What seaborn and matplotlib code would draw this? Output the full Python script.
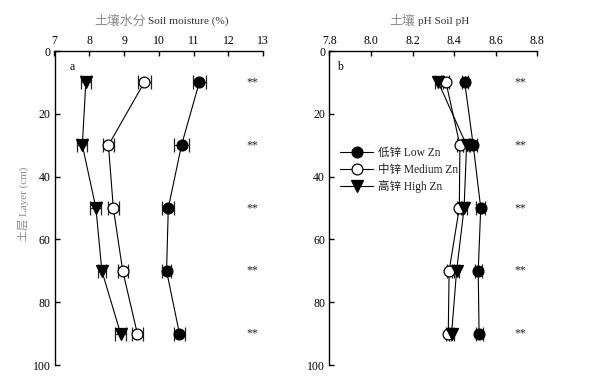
import matplotlib
matplotlib.use("Agg")
import matplotlib.pyplot as plt
import seaborn as sns
import pandas as pd

# ---- data ----
depth = [10, 30, 50, 70, 90]

moist_low = [11.16, 10.65, 10.27, 10.22, 10.59]
moist_med = [9.58, 8.55, 8.69, 8.96, 9.38]
moist_high = [7.90, 7.80, 8.19, 8.36, 8.90]
moist_low_err = [0.19, 0.21, 0.17, 0.13, 0.17]
moist_med_err = [0.18, 0.17, 0.15, 0.14, 0.15]
moist_high_err = [0.15, 0.14, 0.16, 0.12, 0.16]

ph_low = [8.451, 8.492, 8.528, 8.516, 8.520]
ph_med = [8.361, 8.428, 8.425, 8.376, 8.372]
ph_high = [8.324, 8.460, 8.448, 8.412, 8.388]
ph_low_err = [0.015, 0.018, 0.022, 0.016, 0.017]
ph_med_err = [0.014, 0.015, 0.013, 0.012, 0.012]
ph_high_err = [0.015, 0.016, 0.015, 0.013, 0.012]

series_labels = ["低锌 Low Zn", "中锌 Medium Zn", "高锌 High Zn"]
sig_marks = ["**", "**", "**", "**", "**"]

moist_ticks = [7, 8, 9, 10, 11, 12, 13]
ph_ticks = [7.8, 8.0, 8.2, 8.4, 8.6, 8.8]
depth_ticks = [0, 20, 40, 60, 80, 100]

sns.set_theme(style="ticks")
LAT = "Liberation Serif"
CJK = "Noto Sans CJK SC"
plt.rcParams["font.family"] = [LAT, CJK, "DejaVu Sans"]
plt.rcParams["axes.unicode_minus"] = False

FS = 8.5

fig = plt.figure(figsize=(5.92, 3.77), dpi=100)
H = 377.0
W = 592.0
ax_a = fig.add_axes([54.5 / W, 1 - 365 / H, (263.3 - 54.5) / W, (365 - 51) / H])
ax_b = fig.add_axes([329.3 / W, 1 - 365 / H, (537.3 - 329.3) / W, (365 - 51) / H])

styles = [
    dict(marker="o", markerfacecolor="black", markeredgecolor="black", markersize=7.8),
    dict(marker="o", markerfacecolor="white", markeredgecolor="black", markersize=7.8),
    dict(marker="v", markerfacecolor="black", markeredgecolor="black", markersize=8.5),
]


def draw_panel(ax, vals, errs, xlim, xticks, fmt, sig_x, letter, letter_x, legend):
    for v, e, st, lab in zip(vals, errs, styles, series_labels):
        df = pd.DataFrame({"depth": depth, "value": v})
        ax.errorbar(v, depth, xerr=e, fmt="none", ecolor="#222", elinewidth=0.8,
                    capsize=5.3, capthick=0.9, zorder=2)
        sns.lineplot(data=df, x="value", y="depth", orient="y", sort=True, ax=ax,
                     color="black", lw=0.8, markeredgewidth=0.9,
                     label=lab if legend else None, legend=False, zorder=3, **st)
    for d, s in zip(depth, sig_marks):
        ax.text(sig_x, d, s, ha="center", va="center", fontsize=FS, color="#222")
    ax.text(letter_x, 5, letter, ha="center", va="center", fontsize=FS, color="black")
    ax.set_xlim(*xlim)
    ax.set_ylim(100, 0)
    ax.set_xticks(xticks)
    ax.set_xticklabels([fmt.format(t) for t in xticks])
    ax.set_yticks(depth_ticks)
    ax.xaxis.tick_top()
    ax.xaxis.set_label_position("top")
    ax.set_xlabel("")
    ax.set_ylabel("")
    for sp in ["right", "bottom"]:
        ax.spines[sp].set_visible(False)
    for sp in ["left", "top"]:
        ax.spines[sp].set_linewidth(1.0)
        ax.spines[sp].set_color("black")
    ax.tick_params(axis="both", direction="in", length=3.5, width=1.0, colors="black",
                   labelsize=FS, pad=3)
    ax.tick_params(axis="x", top=True, bottom=False)
    for lbl in ax.get_xticklabels() + ax.get_yticklabels():
        lbl.set_family(LAT)


draw_panel(ax_a, [moist_low, moist_med, moist_high],
           [moist_low_err, moist_med_err, moist_high_err],
           (7, 13), moist_ticks, "{:.0f}", 12.67, "a", 7.5, False)
draw_panel(ax_b, [ph_low, ph_med, ph_high],
           [ph_low_err, ph_med_err, ph_high_err],
           (7.8, 8.8), ph_ticks, "{:.1f}", 8.72, "b", 7.852, True)

leg = ax_b.legend(loc="upper left", bbox_to_anchor=(0.051, 0.694), frameon=False,
                  borderpad=0, borderaxespad=0, handlelength=2.9, handletextpad=0.4,
                  labelspacing=0.4, prop={"family": [LAT, CJK], "size": 8.3})
for t in leg.get_texts():
    t.set_color("#222")

# titles (Chinese part grey, English part dark)
ty = 1 - 21 / H
fig.text(145.5 / W, ty, "土壤水分", ha="right", va="center", fontsize=9.3,
         family=[CJK], color="#8a8a8a")
fig.text(148 / W, ty, "Soil moisture (%)", ha="left", va="center", fontsize=8.1,
         family=[LAT], color="#333")
fig.text(415.5 / W, ty, "土壤", ha="right", va="center", fontsize=9.3,
         family=[CJK], color="#8a8a8a")
fig.text(418 / W, ty, "pH Soil pH", ha="left", va="center", fontsize=8.1,
         family=[LAT], color="#333")

# y label
fig.text(23 / W, 1 - 204 / H, "土层 Layer (cm)", rotation=90, ha="center", va="center",
         fontsize=8, family=[LAT, CJK], color="#8a8a8a")

fig.savefig("out.png", dpi=100)
